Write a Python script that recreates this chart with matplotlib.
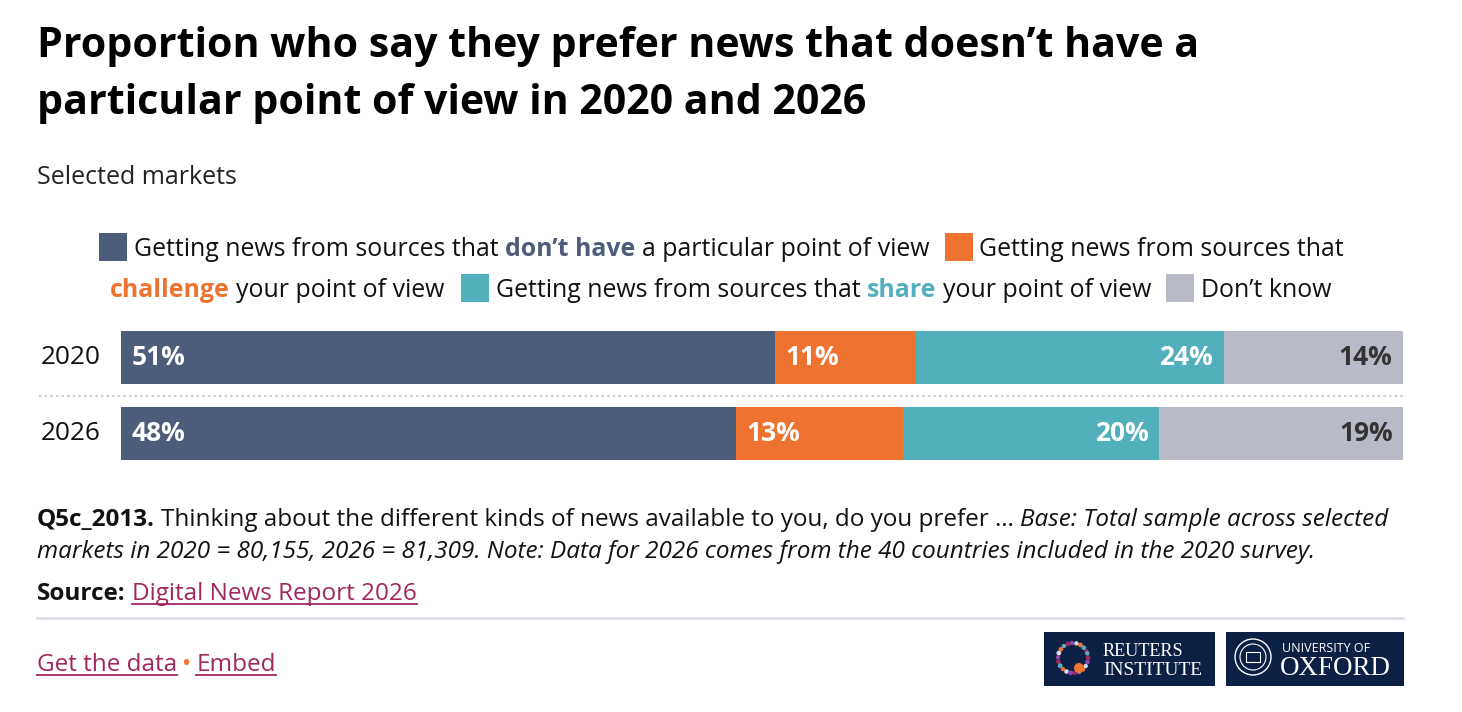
import numpy as np
import matplotlib
matplotlib.use("Agg")
import matplotlib.pyplot as plt
from matplotlib.patches import Rectangle, Circle

plt.rcParams["font.family"] = ["Open Sans", "DejaVu Sans"]

years = ["2020", "2026"]
categories = ["don't have", "challenge", "share", "Don't know"]
values = {
    "2020": [51, 11, 24, 14],
    "2026": [48, 13, 20, 19],
}
colors = ["#4c5c7a", "#ee7331", "#52b0bc", "#b8bbc7"]
label_colors = ["white", "white", "white", "#333333"]
label_align = ["left", "left", "right", "right"]

W, H = 1462, 712
fig = plt.figure(figsize=(W / 100, H / 100), dpi=100)
bg = fig.add_axes([0, 0, 1, 1])
bg.set_xlim(0, W)
bg.set_ylim(H, 0)
bg.axis("off")
renderer = fig.canvas.get_renderer()

LINK = "#a12660"
TXT = "#111111"


def width_of(s, **kw):
    t = bg.text(0, 0, s, **kw)
    w = t.get_window_extent(renderer).width
    t.remove()
    return w


def fit(s, target, **kw):
    # font size that makes s about target pixels wide
    return 20 * target / width_of(s, fontsize=20, **kw)


def run(x, y, pieces, size, underline=False):
    # pieces drawn one after another on a baseline; " " means a word gap
    gap = width_of("a a", fontsize=size) - width_of("aa", fontsize=size)
    for s, kw in pieces:
        if s == " ":
            x += gap
            continue
        t = bg.text(x, y, s, fontsize=size, va="baseline", ha="left", **kw)
        w = t.get_window_extent(renderer).width
        if underline:
            bg.plot([x, x + w], [y + 4, y + 4], color=LINK, lw=1.3)
        x += w
    return x


# title
title1 = "Proportion who say they prefer news that doesn\u2019t have a"
TS = fit(title1, 1161, fontweight="bold")
bg.text(37, 57, title1, fontsize=TS, fontweight="bold", va="baseline", color="black")
bg.text(37, 114, "particular point of view in 2020 and 2026",
        fontsize=TS, fontweight="bold", va="baseline", color="black")
bg.text(37, 184, "Selected markets", fontsize=fit("Selected markets", 199),
        va="baseline", color="#222222")

# legend
LS = fit("Getting news from sources that", 1343 - 979)
for (x0, y0), c in zip([(99, 233), (945, 233), (461, 274), (1166, 274)], colors):
    bg.add_patch(Rectangle((x0, y0), 28, 28, color=c, lw=0))
run(134, 256, [("Getting news from sources that", dict(color=TXT)), (" ", {}),
               ("don\u2019t have", dict(color=colors[0], fontweight="bold")), (" ", {}),
               ("a particular point of view", dict(color=TXT))], LS)
run(979, 256, [("Getting news from sources that", dict(color=TXT))], LS)
run(110, 297, [("challenge", dict(color=colors[1], fontweight="bold")), (" ", {}),
               ("your point of view", dict(color=TXT))], LS)
run(496, 297, [("Getting news from sources that", dict(color=TXT)), (" ", {}),
               ("share", dict(color=colors[2], fontweight="bold")), (" ", {}),
               ("your point of view", dict(color=TXT))], LS)
run(1201, 297, [("Don\u2019t know", dict(color=TXT))], LS)

# bars
x_left, x_right = 121, 1403
row_top, row_step = 319.5, 76
ax = fig.add_axes([x_left / W, 1 - (row_top + 2 * row_step) / H,
                   (x_right - x_left) / W, 2 * row_step / H])
ax.set_xlim(0, 100)
ax.set_ylim(1.5, -0.5)
ax.axis("off")
PS = fit("51%", 54, fontweight="bold")
YS = fit("2020", 60)
for r, yr in enumerate(years):
    left = 0
    for j, v in enumerate(values[yr]):
        ax.barh(r, v, left=left, height=0.70, color=colors[j], lw=0)
        if label_align[j] == "left":
            ax.annotate(f"{v}%", (left, r), xytext=(7.5, 0), textcoords="offset points",
                        ha="left", va="center", color=label_colors[j],
                        fontsize=PS, fontweight="bold")
        else:
            ax.annotate(f"{v}%", (left + v, r), xytext=(-7.5, 0), textcoords="offset points",
                        ha="right", va="center", color=label_colors[j],
                        fontsize=PS, fontweight="bold")
        left += v
    bg.text(101, row_top + row_step * (r + 0.5), yr, ha="right", va="center",
            fontsize=YS, color=TXT)
bg.plot([39, 1403], [396, 396], color="#cfcfcf", lw=1.5, ls=(0, (1.2, 1.5)))

# footer
foot2 = ("markets in 2020 = 80,155, 2026 = 81,309. Note: Data for 2026 comes from "
         "the 40 countries included in the 2020 survey.")
FS = fit(foot2, 1276, style="italic")
run(37, 526, [("Q5c_2013.", dict(color=TXT, fontweight="bold")), (" ", {}),
              ("Thinking about the different kinds of news available to you, do you prefer \u2026",
               dict(color=TXT)), (" ", {}),
              ("Base: Total sample across selected", dict(color=TXT, style="italic"))], FS)
bg.text(37, 558, foot2, fontsize=FS, style="italic", color=TXT, va="baseline")
xs = run(37, 600, [("Source:", dict(color=TXT, fontweight="bold")), (" ", {})], FS)
run(xs, 600, [("Digital News Report 2026", dict(color=LINK))], FS, underline=True)
bg.plot([37, 1403], [618, 618], color="#dde0e7", lw=2)
xe = run(37, 671, [("Get the data", dict(color=LINK))], FS, underline=True)
xe = run(xe + 5, 671, [("\u2022", dict(color=colors[1]))], FS)
run(xe + 5, 671, [("Embed", dict(color=LINK))], FS, underline=True)

# logos
NAVY = "#0c1f45"
bg.add_patch(Rectangle((1044, 632), 171, 54, color=NAVY, lw=0))
bg.add_patch(Rectangle((1226, 632), 178, 54, color=NAVY, lw=0))
ang = np.linspace(0.15 * np.pi, 2.1 * np.pi, 22)
dot_cols = ["#a12660", "#52b0bc", "#ee7331", "#d9d9e8", "#8e44ad"]
for k, a in enumerate(ang):
    bg.add_patch(Circle((1073 + 15 * np.cos(a), 658 - 15 * np.sin(a)), 2.2 + 0.1 * (k % 3),
                        color=dot_cols[k % 5], lw=0))
bg.add_patch(Circle((1079, 668), 5, color="#ee7331", lw=0))
bg.text(1103, 656, "REUTERS", fontsize=fit("REUTERS", 1202 - 1103, family="Liberation Serif") * 0.82,
        color="white", family="Liberation Serif", va="baseline")
bg.text(1103, 675, "INSTITUTE", fontsize=fit("INSTITUTE", 1202 - 1103, family="Liberation Serif"),
        color="white", family="Liberation Serif", va="baseline")
bg.add_patch(Circle((1253, 657), 18, fill=False, ec="white", lw=1))
bg.add_patch(Circle((1253, 657), 13, fill=False, ec="white", lw=0.8))
bg.add_patch(Rectangle((1246, 652), 14, 10, fill=False, ec="white", lw=0.8))
bg.text(1282, 652, "UNIVERSITY OF", fontsize=fit("UNIVERSITY OF", 88), color="white",
        va="baseline")
bg.text(1280, 675, "OXFORD", fontsize=fit("OXFORD", 111, family="Liberation Serif"),
        color="white", family="Liberation Serif", va="baseline")

fig.savefig("out.png", dpi=100)
